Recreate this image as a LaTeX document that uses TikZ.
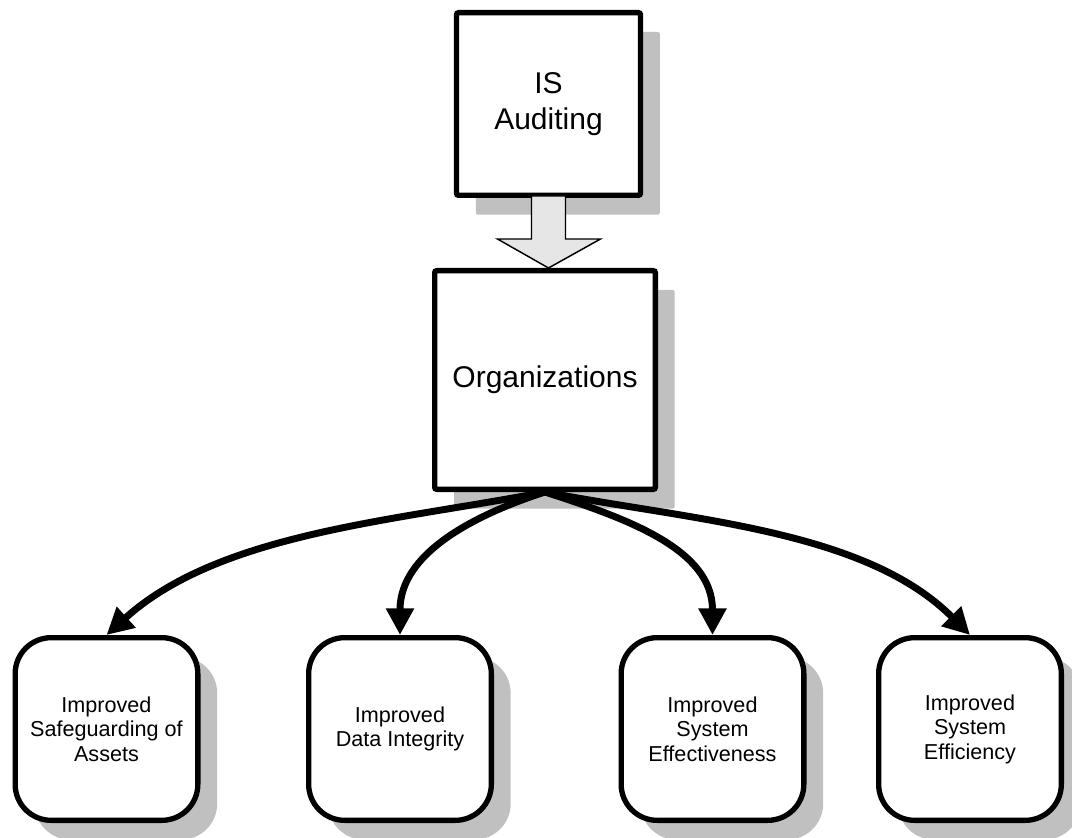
\documentclass[tikz,border=0pt]{standalone}
\usepackage{fontspec}
\setmainfont{Liberation Sans}
\usetikzlibrary{arrows.meta,shadows,calc}
\definecolor{shadowgray}{HTML}{C0C0C0}
\definecolor{arrowfill}{HTML}{E6E6E6}
\begin{document}
\begin{tikzpicture}[x=0.75pt,y=-0.75pt,
  boxshadow/.style={drop shadow={shadow xshift=14.5pt, shadow yshift=-14.5pt, fill=shadowgray, opacity=1}},
  sqbox/.style={draw, line width=4pt, fill=white, rounded corners=1.5pt, align=center,
    inner sep=0pt, font=\fontsize{22.5}{27}\selectfont, boxshadow},
  rbox/.style={draw, line width=4pt, fill=white, rounded corners=27pt, align=center,
    inner sep=0pt, minimum width=137pt, minimum height=137pt,
    font=\fontsize{16.2}{18.4}\selectfont, boxshadow},
  conn/.style={line width=5.2pt, -{Triangle[length=20pt,width=20pt]}},
  blockarrow/.style={draw=black, line width=1.1pt, fill=arrowfill, line join=miter}
]
\useasboundingbox (0,0) rectangle (1072,838);

\node[sqbox, minimum width=138pt, minimum height=137pt] (is) at (548.5,104) {IS\\Auditing};

\draw[blockarrow] ($(is.south)+(-17,-2)$) -- ($(is.south)+(17,-2)$) -- ($(is.south)+(17,41)$)
  -- ($(is.south)+(52,41)$) -- ($(is.south)+(0,70)$) -- ($(is.south)+(-51,41)$)
  -- ($(is.south)+(-17,41)$) -- cycle;

\node[sqbox, minimum width=165.5pt, minimum height=164pt] (org) at (545,380) {Organizations};

\node[rbox] (b1) at (106.5,729) {Improved\\Safeguarding of\\Assets};
\node[rbox] (b2) at (400,729) {Improved\\Data Integrity};
\node[rbox] (b3) at (712.5,729) {Improved\\System\\Effectiveness};
\node[rbox] (b4) at (970,729) {Improved\\System\\Efficiency};

\draw[conn] (org.south) to[out=191,in=42,looseness=0.85] (b1.north);
\draw[conn] (org.south) to[out=198,in=90] (b2.north);
\draw[conn] (org.south) to[out=-18,in=90] (b3.north);
\draw[conn] (org.south) to[out=-11,in=135,looseness=0.85] (b4.north);
\end{tikzpicture}
\end{document}
